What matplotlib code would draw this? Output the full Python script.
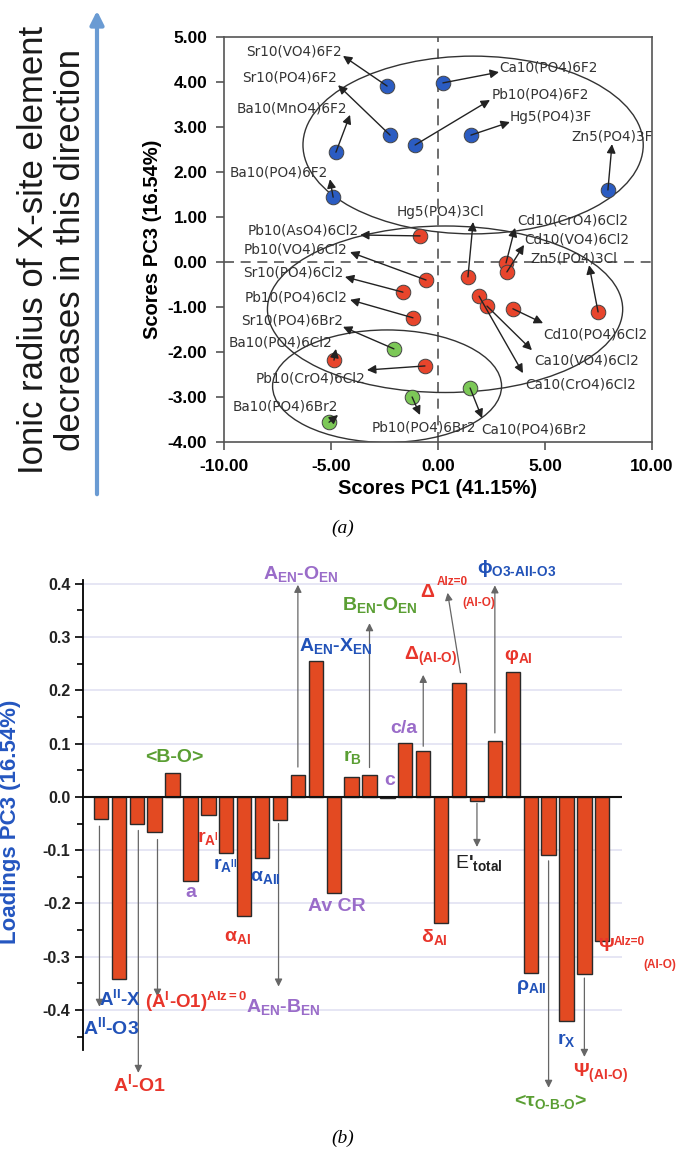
import matplotlib
matplotlib.use('Agg')
import matplotlib.pyplot as plt
from matplotlib.patches import Ellipse, FancyArrowPatch
from matplotlib.ticker import FormatStrFormatter, MultipleLocator

plt.rcParams['font.family'] = ['Liberation Sans', 'DejaVu Sans']
plt.rcParams['axes.unicode_minus'] = False
plt.rcParams['mathtext.fontset'] = 'custom'
plt.rcParams['mathtext.rm'] = 'Liberation Sans:bold'
plt.rcParams['mathtext.it'] = 'Liberation Sans:bold:italic'
plt.rcParams['mathtext.bf'] = 'Liberation Sans:bold'
plt.rcParams['mathtext.sf'] = 'Liberation Sans:bold'

# ---- (a) PCA scores
f_names = ['Sr10(VO4)6F2', 'Sr10(PO4)6F2', 'Ba10(MnO4)6F2', 'Ba10(PO4)6F2',
           'Pb10(PO4)6F2', 'Ca10(PO4)6F2', 'Hg5(PO4)3F', 'Zn5(PO4)3F']
f_pc1 = [-2.38, -2.24, -4.77, -4.90, -1.07, 0.23, 1.54, 7.94]
f_pc3 = [3.91, 2.82, 2.44, 1.44, 2.60, 3.98, 2.82, 1.60]

cl_names = ['Pb10(AsO4)6Cl2', 'Pb10(VO4)6Cl2', 'Sr10(PO4)6Cl2', 'Pb10(PO4)6Cl2',
            'Ba10(PO4)6Cl2', 'Pb10(CrO4)6Cl2', 'Ca10(CrO4)6Cl2', 'Ca10(VO4)6Cl2',
            'Cd10(PO4)6Cl2', 'Zn5(PO4)3Cl', 'Cd10(CrO4)6Cl2', 'Cd10(VO4)6Cl2',
            'Hg5(PO4)3Cl']
cl_pc1 = [-0.84, -0.56, -1.64, -1.17, -4.86, -0.61, 1.92, 2.29, 3.50, 7.48, 3.18, 3.22, 1.40]
cl_pc3 = [0.58, -0.40, -0.67, -1.24, -2.18, -2.31, -0.76, -0.98, -1.04, -1.11, -0.02, -0.22, -0.33]

br_names = ['Sr10(PO4)6Br2', 'Ba10(PO4)6Br2', 'Pb10(PO4)6Br2', 'Ca10(PO4)6Br2']
br_pc1 = [-2.06, -5.09, -1.21, 1.50]
br_pc3 = [-1.93, -3.56, -3.00, -2.80]

# label placement: name -> (text x, text y, arrow tip x, arrow tip y)
label_pos = {
    'Sr10(VO4)6F2': (-6.73, 4.67, -4.44, 4.58),
    'Sr10(PO4)6F2': (-6.96, 4.11, -4.67, 3.93),
    'Ba10(MnO4)6F2': (-6.82, 3.42, -4.11, 3.27),
    'Ba10(PO4)6F2': (-7.43, 2.00, -5.05, 1.84),
    'Pb10(PO4)6F2': (4.77, 3.73, 2.43, 3.60),
    'Ca10(PO4)6F2': (5.14, 4.33, 2.85, 4.22),
    'Hg5(PO4)3F': (5.28, 3.22, 3.36, 3.11),
    'Zn5(PO4)3F': (8.13, 2.80, 8.13, 2.62),
    'Pb10(AsO4)6Cl2': (-6.31, 0.71, -3.64, 0.60),
    'Pb10(VO4)6Cl2': (-6.64, 0.27, -4.11, 0.22),
    'Sr10(PO4)6Cl2': (-6.78, -0.24, -4.35, -0.33),
    'Pb10(PO4)6Cl2': (-6.64, -0.78, -4.11, -0.84),
    'Ba10(PO4)6Cl2': (-7.38, -1.80, -4.77, -1.93),
    'Pb10(CrO4)6Cl2': (-5.98, -2.58, -3.32, -2.40),
    'Ca10(CrO4)6Cl2': (6.68, -2.73, 3.97, -2.47),
    'Ca10(VO4)6Cl2': (6.96, -2.18, 4.39, -1.96),
    'Cd10(PO4)6Cl2': (7.34, -1.62, 4.91, -1.36),
    'Zn5(PO4)3Cl': (6.36, 0.07, 7.06, -0.07),
    'Cd10(CrO4)6Cl2': (6.31, 0.93, 3.60, 0.76),
    'Cd10(VO4)6Cl2': (6.50, 0.51, 4.02, 0.38),
    'Hg5(PO4)3Cl': (0.14, 1.11, 1.64, 0.89),
    'Sr10(PO4)6Br2': (-6.82, -1.31, -4.44, -1.44),
    'Ba10(PO4)6Br2': (-7.15, -3.22, -4.67, -3.40),
    'Pb10(PO4)6Br2': (-0.65, -3.67, -0.84, -3.40),
    'Ca10(PO4)6Br2': (4.49, -3.73, 2.06, -3.47),
}

# ---- (b) PC3 loadings, 29 descriptors left to right
loadings = [-0.042, -0.342, -0.050, -0.066, 0.045, -0.158, -0.034, -0.106, -0.223,
            -0.115, -0.043, 0.042, 0.255, -0.180, 0.038, 0.041, -0.002, 0.101,
            0.087, -0.236, 0.214, -0.007, 0.104, 0.235, -0.330, -0.110, -0.420,
            -0.333, -0.270]

fig = plt.figure(figsize=(6.76, 11.49), dpi=100)

# ================= panel (a)
ax = fig.add_axes([224/676, 1-442/1149, 428/676, 405/1149])
ax.set_xlim(-10, 10)
ax.set_ylim(-4, 5)
ax.axhline(0, color='#555555', lw=1.2, ls=(0, (6, 4)), zorder=1)
ax.axvline(0, color='#555555', lw=1.2, ls=(0, (6, 4)), zorder=1)

ax.add_patch(Ellipse((1.64, 2.60), 15.9, 3.95, fill=False, ec='#333333', lw=1.0, zorder=2))
ax.add_patch(Ellipse((0.33, -1.05), 16.6, 3.70, fill=False, ec='#333333', lw=1.0, zorder=2))
ax.add_patch(Ellipse((-2.38, -2.76), 10.7, 2.50, fill=False, ec='#333333', lw=1.0, zorder=2))

for names, xs, ys, col in [(f_names, f_pc1, f_pc3, '#2b5cc2'),
                           (cl_names, cl_pc1, cl_pc3, '#e8452c'),
                           (br_names, br_pc1, br_pc3, '#7cc857')]:
    ax.scatter(xs, ys, s=110, c=col, edgecolors='#444444', linewidths=0.7, zorder=3)
    for n, x, y in zip(names, xs, ys):
        tx, ty, ax_, ay_ = label_pos[n]
        ax.annotate('', xy=(ax_, ay_), xytext=(x, y),
                    arrowprops=dict(arrowstyle='-|>', color='#222222', lw=1.0,
                                    mutation_scale=13, shrinkA=0, shrinkB=0),
                    zorder=4)
        ax.text(tx, ty, n, fontsize=9.8, family='DejaVu Sans', color='#333333',
                ha='center', va='center', zorder=5)

ax.set_xticks([-10, -5, 0, 5, 10])
ax.set_yticks([-4, -3, -2, -1, 0, 1, 2, 3, 4, 5])
ax.xaxis.set_major_formatter(FormatStrFormatter('%.2f'))
ax.yaxis.set_major_formatter(FormatStrFormatter('%.2f'))
ax.tick_params(direction='out', length=6, width=1.2, color='#555555',
               labelsize=12.5, pad=6)
for t in ax.get_xticklabels() + ax.get_yticklabels():
    t.set_fontweight('bold')
for sp in ax.spines.values():
    sp.set_color('#555555')
    sp.set_linewidth(1.2)
ax.set_xlabel('Scores PC1 (41.15%)', fontsize=14.5, fontweight='bold', labelpad=4)
ax.set_ylabel('Scores PC3 (16.54%)', fontsize=14.5, fontweight='bold', labelpad=4)

fig.text(52/676, 1-250/1149, 'Ionic radius of X-site element\ndecreases in this direction',
         rotation=90, ha='center', va='center', fontsize=25, linespacing=1.15,
         color='#1a1a1a')
fig.add_artist(FancyArrowPatch((97/676, 1-497/1149), (97/676, 1-8/1149),
                               transform=fig.transFigure, arrowstyle='-|>',
                               mutation_scale=20, color='#6a9bd3', lw=3))
fig.text(343/676, 1-528/1149, '(a)', family='Liberation Serif', style='italic',
         fontsize=14, ha='center', va='center')

# ================= panel (b)
bx = fig.add_axes([83/676, 1-1050/1149, 539/676, 470/1149])
idx = list(range(len(loadings)))
bx.bar(idx, loadings, width=0.8, color='#e34a22', edgecolor='#2a2a2a', lw=1.0, zorder=3)
bx.set_xlim(-1, 29.1)
bx.set_ylim(-0.475, 0.407)
bx.axhline(0, color='#111111', lw=1.5, zorder=4)
bx.yaxis.set_major_locator(MultipleLocator(0.1))
bx.yaxis.set_minor_locator(MultipleLocator(0.05))
bx.yaxis.set_major_formatter(FormatStrFormatter('%.1f'))
bx.grid(axis='y', color='#e2e2f2', lw=1.2, zorder=0)
bx.set_xticks([])
for s in ['top', 'right', 'bottom']:
    bx.spines[s].set_visible(False)
bx.spines['left'].set_linewidth(1.3)
bx.tick_params(axis='y', which='major', direction='out', length=6, width=1.2,
               labelsize=11.5, pad=3)
bx.tick_params(axis='y', which='minor', direction='out', length=4, width=1.2)
for t in bx.get_yticklabels():
    t.set_fontweight('bold')
    t.set_color('#222222')
bx.set_ylabel('Loadings PC3 (16.54%)', fontsize=16, fontweight='bold', color='#2456c0')
bx.yaxis.set_label_coords(-0.115, 0.485)

purple, blue, red, green = '#9a6cc9', '#2152b8', '#e8352b', '#5a9e33'


def lab(x, y, s, col, size=14, weight='bold', ha='center'):
    bx.text(x, y, s, color=col, fontsize=size, fontweight=weight, ha=ha,
            va='center', clip_on=False, zorder=6)


def arrow(i, off, y_end, dx=0.0, x_end=None):
    y0 = loadings[i] + off
    xe = i + dx if x_end is None else x_end
    bx.annotate('', xy=(xe, y_end), xytext=(i + dx, y0), annotation_clip=False,
                arrowprops=dict(arrowstyle='-|>', color='#666666', lw=0.9,
                                mutation_scale=11, shrinkA=0, shrinkB=0), zorder=5)


lab(11.15, 0.418, r'A$_{\mathrm{EN}}$-O$_{\mathrm{EN}}$', purple)
lab(13.1, 0.283, r'A$_{\mathrm{EN}}$-X$_{\mathrm{EN}}$', blue)
lab(4.1, 0.073, '<B-O>', green)
lab(15.56, 0.36, r'B$_{\mathrm{EN}}$-O$_{\mathrm{EN}}$', green)
lab(14.05, 0.075, r'r$_{\mathrm{B}}$', green)
lab(16.12, 0.03, 'c', purple)
lab(16.9, 0.129, 'c/a', purple)
lab(18.4, 0.263, r'$\Delta_{\mathrm{(AI\text{-}O)}}$', red)
lab(18.24, 0.383, r'$\Delta$', red)
lab(19.64, 0.403, 'AIz=0', red, size=8.5)
lab(21.09, 0.364, '(AI-O)', red, size=8.5)
lab(21.0, 0.428, r'$\mathrm{\phi}_{\mathrm{O3\text{-}AII\text{-}O3}}$', blue, ha='left')
lab(23.3, 0.263, r'$\mathrm{\varphi}_{\mathrm{AI}}$', red)
lab(21.1, -0.124, r"E$'_{\mathrm{total}}$", '#222222', weight='normal')
lab(18.6, -0.263, r'$\mathrm{\delta}_{\mathrm{AI}}$', red)
lab(24.05, -0.356, r'$\mathrm{\rho}_{\mathrm{AII}}$', blue)
lab(26.0, -0.456, r'r$_{\mathrm{X}}$', blue)
lab(27.9, -0.518, r'$\Psi_{\mathrm{(AI\text{-}O)}}$', red)
lab(25.1, -0.572, r'<$\mathrm{\tau}_{\mathrm{O\text{-}B\text{-}O}}$>', green)
lab(28.2, -0.281, r'$\Psi$', red)
lab(29.5, -0.272, 'AIz=0', red, size=8.5)
lab(31.2, -0.315, '(AI-O)', red, size=8.5)
lab(13.2, -0.206, 'Av CR', purple)
lab(5.0, -0.18, 'a', purple)
lab(6.0, -0.077, r'r$_{\mathrm{A^{I}}}$', red)
lab(6.95, -0.128, r'r$_{\mathrm{A^{II}}}$', blue)
lab(9.2, -0.152, r'$\mathrm{\alpha}_{\mathrm{AII}}$', blue)
lab(7.6, -0.263, r'$\mathrm{\alpha}_{\mathrm{AI}}$', red)
lab(10.2, -0.394, r'A$_{\mathrm{EN}}$-B$_{\mathrm{EN}}$', purple)
lab(1.05, -0.381, r'A$^{\mathrm{II}}$-X', blue, size=13.5)
lab(5.35, -0.385, r'(A$^{\mathrm{I}}$-O1)$^{\mathrm{AIz=0}}$', red, size=13.5)
lab(0.59, -0.433, r'A$^{\mathrm{II}}$-O3', blue)
lab(2.15, -0.54, r'A$^{\mathrm{I}}$-O1', red)

arrow(11, 0.014, 0.398)
arrow(15, 0.014, 0.326)
arrow(18, 0.008, 0.229)
arrow(20, 0.019, 0.383, dx=0.08, x_end=19.36)
arrow(22, 0.016, 0.397)
arrow(21, -0.005, -0.094)
arrow(0, -0.013, -0.394, dx=-0.08)
arrow(2, -0.013, -0.518, dx=0.09)
arrow(3, -0.014, -0.375, dx=0.16)
arrow(10, -0.007, -0.356, dx=-0.08)
arrow(25, -0.010, -0.546)
arrow(27, -0.007, -0.488)

fig.text(343/676, 1-1138/1149, '(b)', family='Liberation Serif', style='italic',
         fontsize=14, ha='center', va='center')

fig.savefig('out.png', dpi=100)
